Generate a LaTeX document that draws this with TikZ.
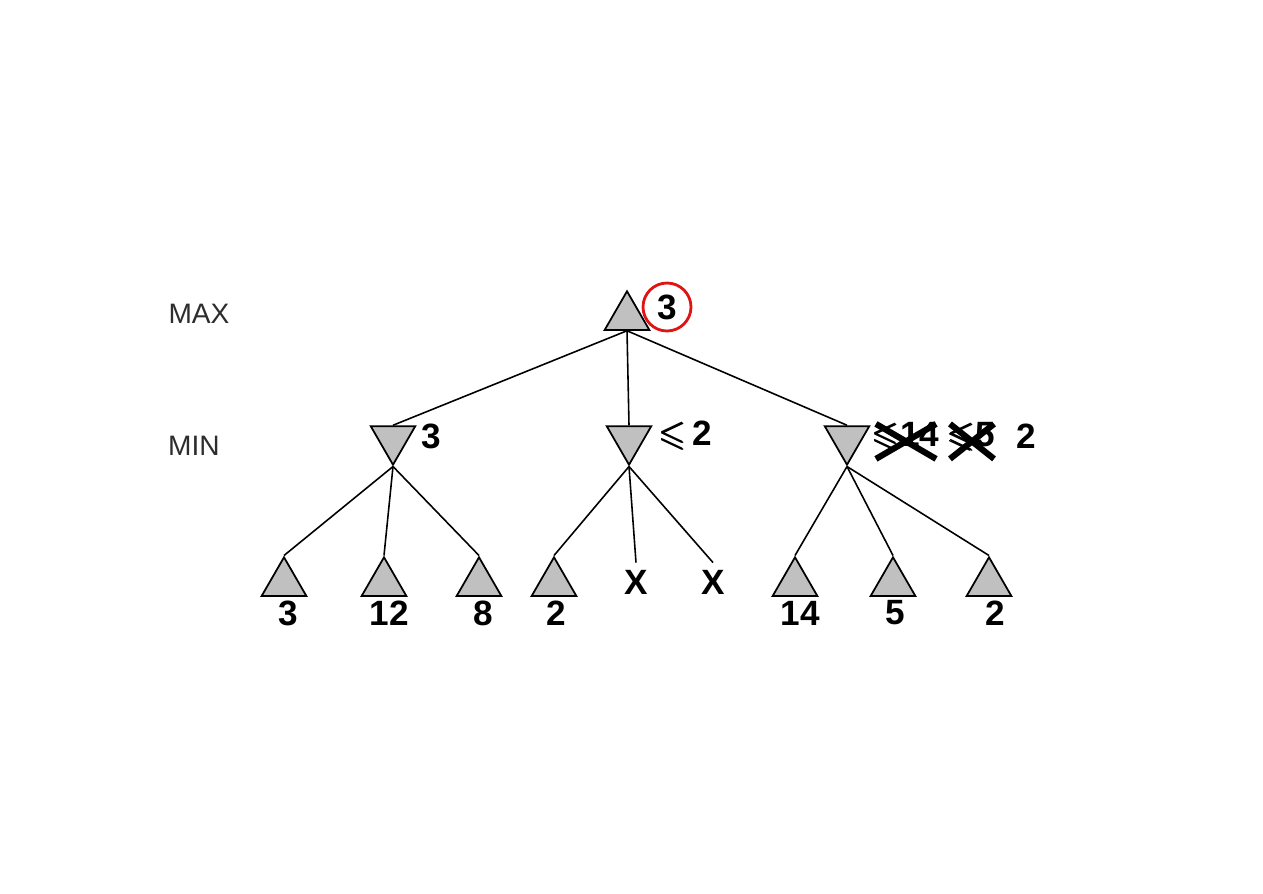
\documentclass[tikz,border=0pt]{standalone}
\usepackage{amsmath, amssymb}
\usepackage{fontspec}
\setmainfont{Liberation Sans}
\definecolor{nodegray}{RGB}{192, 192, 192}
\definecolor{levelgray}{RGB}{45, 45, 45}
\definecolor{markred}{RGB}{225, 20, 20}
\usetikzlibrary{shapes.geometric, positioning}
\tikzset{
	maxnode/.style={regular polygon, regular polygon sides=3, draw=black, fill=nodegray, line width=1pt, minimum size=1.03cm, inner sep=0pt},
	minnode/.style={maxnode, shape border rotate=180},
	value/.style={font=\fontsize{20}{22}\selectfont\bfseries, inner sep=1pt},
	cutoff/.style={font=\fontsize{20}{22}\selectfont\bfseries, inner sep=4pt},
	level/.style={font=\fontsize{16}{18}\selectfont, text=levelgray},
	edge/.style={line width=0.9pt},
	cross/.style={line width=3.5pt},
	best/.style={circle, draw=markred, line width=1.6pt, minimum size=0.96cm, inner sep=0pt},
}
\newcommand{\bound}{$\pmb{\leqslant}$}

\begin{document}
\begin{tikzpicture}[x=0.02cm, y=-0.02cm]
		\useasboundingbox (0,0) rectangle (1263,893);
		% levels
		\node[level] (maxlbl) at (199,314) {MAX};
		\node[level] (minlbl) at (194,446) {MIN};
		% tree
		\node[maxnode] (root) at (627,317) {};
		\node[minnode] (minA) at (393,439) {};
		\node[minnode] (minB) at (629,439) {};
		\node[minnode] (minC) at (847,439) {};
		\node[maxnode] (leafA) at (284,583) {};
		\node[maxnode] (leafB) at (384,583) {};
		\node[maxnode] (leafC) at (479,583) {};
		\node[maxnode] (leafD) at (554,583) {};
		\node[cutoff] (cutA) at (636,582) {X};
		\node[cutoff] (cutB) at (713,582) {X};
		\node[maxnode] (leafG) at (795,583) {};
		\node[maxnode] (leafH) at (893,583) {};
		\node[maxnode] (leafI) at (989,583) {};
		% values
		\node[value, best] (rootval) at (667,307) {3};
		\node[value] (valA) at (431,436) {3};
		\node[value] (valB) at (686,436) {\bound\,2};
		\node[value] (oldA) at (906,437) {\bound14};
		\node[value] (oldB) at (972,437) {\bound5};
		\node[value] (valC) at (1026,436) {2};
		\node[value] (lvA) at (288,613) {3};
		\node[value] (lvB) at (389,613) {12};
		\node[value] (lvC) at (483,613) {8};
		\node[value] (lvD) at (556,613) {2};
		\node[value] (lvG) at (800,613) {14};
		\node[value] (lvH) at (895,613) {5};
		\node[value] (lvI) at (995,613) {2};
		% edges
		\draw[edge] (root.side 2) -- (minA.side 2);
		\draw[edge] (root.side 2) -- (minB.side 2);
		\draw[edge] (root.side 2) -- (minC.side 2);
		\draw[edge] (minA.corner 1) -- (leafA.corner 1);
		\draw[edge] (minA.corner 1) -- (leafB.corner 1);
		\draw[edge] (minA.corner 1) -- (leafC.corner 1);
		\draw[edge] (minB.corner 1) -- (leafD.corner 1);
		\draw[edge] (minB.corner 1) -- (cutA.north);
		\draw[edge] (minB.corner 1) -- (cutB.north);
		\draw[edge] (minC.corner 1) -- (leafG.corner 1);
		\draw[edge] (minC.corner 1) -- (leafH.corner 1);
		\draw[edge] (minC.corner 1) -- (leafI.corner 1);
		% crossed out bounds
		\draw[cross] ([shift={(3pt,-2pt)}]oldA.north west) -- ([shift={(-3pt,-3pt)}]oldA.south east) ([shift={(3pt,-3pt)}]oldA.south west) -- ([shift={(-3pt,-2pt)}]oldA.north east);
		\draw[cross] ([shift={(2pt,-2pt)}]oldB.north west) -- ([shift={(-2pt,-3pt)}]oldB.south east) ([shift={(2pt,-3pt)}]oldB.south west) -- ([shift={(-2pt,-2pt)}]oldB.north east);
	\end{tikzpicture}
\end{document}
